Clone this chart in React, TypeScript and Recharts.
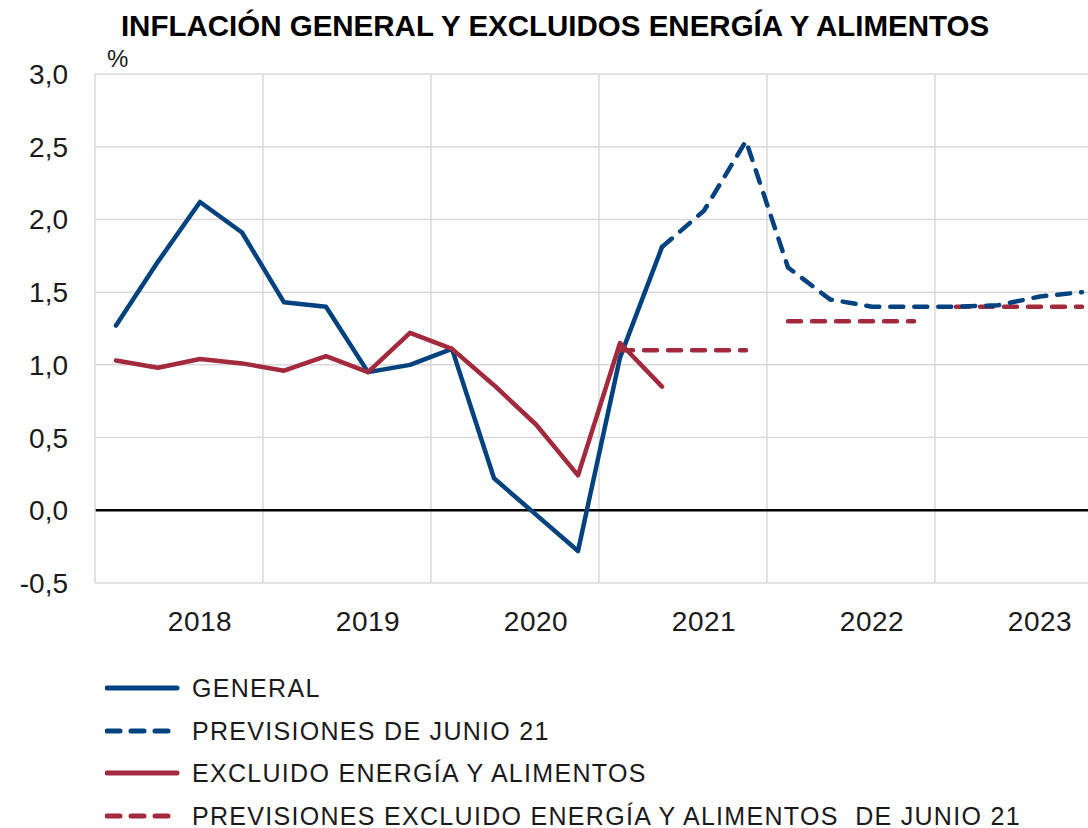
import { LineChart, Line, XAxis, YAxis, CartesianGrid, ReferenceLine } from 'recharts'

const years = [2018, 2019, 2020, 2021, 2022, 2023]
const quarterNames = ['I', 'II', 'III', 'IV']

// tasa interanual, datos trimestrales
const general = [1.27, 1.71, 2.12, 1.91, 1.43, 1.4, 0.95, 1.0, 1.11, 0.22, -0.03, -0.28, 1.05, 1.81]
const generalForecast = [1.81, 2.06, 2.54, 1.67, 1.45, 1.4, 1.4, 1.4, 1.41, 1.47, 1.5] // desde 2021 II
const excluding = [1.03, 0.98, 1.04, 1.01, 0.96, 1.06, 0.95, 1.22, 1.11, 0.86, 0.59, 0.24, 1.15, 0.85]
const excludingForecastYears = [2021, 2022, 2023]
const excludingForecast = [1.1, 1.3, 1.4] // media anual

const yTicks = [-0.5, 0, 0.5, 1, 1.5, 2, 2.5, 3]

const BLUE = '#00427f'
const RED = '#a3293d'
const GRID = '#d9d9d9'
const TEXT = '#1a1a1a'
const FONT = '"Liberation Sans", Arial, sans-serif'

const forecastStart = general.length - 1

const data = years.flatMap((year, yi) =>
  quarterNames.map((q, qi) => {
    const i = yi * 4 + qi
    const row: Record<string, number | string | null> = {
      x: i + 0.5,
      label: `${year} ${q}`,
      general: i < general.length ? general[i] : null,
      generalForecast: i >= forecastStart ? generalForecast[i - forecastStart] : null,
      excluding: i < excluding.length ? excluding[i] : null,
    }
    excludingForecastYears.forEach((fy, k) => {
      row[`exf${fy}`] = fy === year ? excludingForecast[k] : null
    })
    return row
  })
)

const xTicks = years.map((_, yi) => yi * 4 + 2.5)
const yearBounds = years.slice(1).map((_, yi) => (yi + 1) * 4)

const legendItems = [
  { label: 'GENERAL', color: BLUE, dashed: false },
  { label: 'PREVISIONES DE JUNIO 21', color: BLUE, dashed: true },
  { label: 'EXCLUIDO ENERGÍA Y ALIMENTOS', color: RED, dashed: false },
  { label: 'PREVISIONES EXCLUIDO ENERGÍA Y ALIMENTOS  DE JUNIO 21', color: RED, dashed: true },
]

export default function App() {
  return (
    <div
      style={{
        position: 'absolute',
        left: 0,
        top: 0,
        width: 1088,
        height: 828,
        overflow: 'hidden',
        background: '#fff',
        fontFamily: FONT,
        color: TEXT,
      }}
    >
      <div
        style={{
          position: 'absolute',
          left: 0,
          width: 1110,
          top: 8,
          textAlign: 'center',
          fontWeight: 'bold',
          fontSize: 29.5,
          lineHeight: '36px',
          color: '#000',
        }}
      >
        INFLACIÓN GENERAL Y EXCLUIDOS ENERGÍA Y ALIMENTOS
      </div>
      <div style={{ position: 'absolute', left: 107, top: 45, fontSize: 24, lineHeight: '28px' }}>%</div>

      <div style={{ position: 'absolute', left: 0, top: 0 }}>
        <LineChart width={1103} height={650} data={data} margin={{ top: 74, right: 0, bottom: 7, left: 0 }}>
          <CartesianGrid vertical={false} stroke={GRID} strokeWidth={1.5} />
          {yearBounds.map((b) => (
            <ReferenceLine key={b} x={b} stroke={GRID} strokeWidth={1.5} />
          ))}
          <ReferenceLine y={0} stroke="#000" strokeWidth={2.5} />
          <XAxis
            type="number"
            dataKey="x"
            domain={[0, 24]}
            ticks={xTicks}
            tickFormatter={(v: number) => String(years[Math.floor(v / 4)])}
            axisLine={false}
            tickLine={false}
            tickMargin={22}
            height={60}
            tick={{ fontSize: 28, fill: TEXT, fontFamily: FONT, letterSpacing: 0.5 }}
          />
          <YAxis
            domain={[-0.5, 3]}
            ticks={yTicks}
            width={95}
            axisLine={{ stroke: GRID, strokeWidth: 1.5 }}
            tickLine={false}
            tickMargin={21}
            tickFormatter={(v: number) => v.toFixed(1).replace('.', ',')}
            tick={{ fontSize: 28, fill: TEXT, fontFamily: FONT }}
          />
          <Line
            dataKey="general"
            stroke={BLUE}
            strokeWidth={4.5}
            dot={false}
            strokeLinecap="round"
            strokeLinejoin="round"
            isAnimationActive={false}
          />
          <Line
            dataKey="excluding"
            stroke={RED}
            strokeWidth={4.5}
            dot={false}
            strokeLinecap="round"
            strokeLinejoin="round"
            isAnimationActive={false}
          />
          {excludingForecastYears.map((fy) => (
            <Line
              key={fy}
              dataKey={`exf${fy}`}
              stroke={RED}
              strokeWidth={4.5}
              strokeDasharray="13 11"
              strokeLinecap="round"
              dot={false}
              isAnimationActive={false}
            />
          ))}
          <Line
            dataKey="generalForecast"
            stroke={BLUE}
            strokeWidth={4.5}
            strokeDasharray="13 11"
            strokeLinecap="round"
            strokeLinejoin="round"
            dot={false}
            isAnimationActive={false}
          />
        </LineChart>
      </div>

      {legendItems.map((item, i) => (
        <div
          key={item.label}
          style={{
            position: 'absolute',
            left: 105,
            top: 674 + i * 42.5,
            height: 28,
            display: 'flex',
            alignItems: 'center',
          }}
        >
          <svg width={76} height={10} style={{ marginRight: 11 }}>
            <line
              x1={2}
              x2={72}
              y1={5}
              y2={5}
              stroke={item.color}
              strokeWidth={5}
              strokeLinecap="round"
              strokeDasharray={item.dashed ? '13 11' : undefined}
            />
          </svg>
          <span style={{ fontSize: 25, lineHeight: '28px', letterSpacing: 1.3, whiteSpace: 'pre' }}>{item.label}</span>
        </div>
      ))}
    </div>
  )
}
